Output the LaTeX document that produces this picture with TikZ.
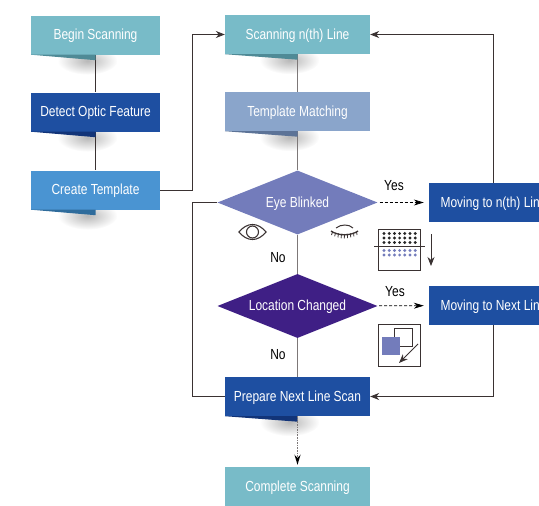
\documentclass[tikz,border=0pt]{standalone}
\usepackage{fontspec}
\setmainfont[FakeStretch=0.82]{Liberation Sans}
\usetikzlibrary{shapes.geometric, arrows.meta, backgrounds}

\definecolor{tealbox}{HTML}{78BBC8}
\definecolor{navybox}{HTML}{1E4FA1}
\definecolor{skybox}{HTML}{4A94D2}
\definecolor{paleblue}{HTML}{8AA5CB}
\definecolor{iris}{HTML}{737CBB}
\definecolor{deeppurple}{HTML}{3F1F85}
\definecolor{foldteal}{HTML}{4F8A96}
\definecolor{foldnavy}{HTML}{123478}
\definecolor{foldsky}{HTML}{2F6C9C}
\definecolor{foldpale}{HTML}{5C7397}
\definecolor{linedark}{HTML}{3A3232}
\definecolor{linegrey}{HTML}{7D7878}

\begin{document}
\begin{tikzpicture}[x=1pt, y=-1pt, node distance=77pt]
    \tikzstyle{stepbox} = [rectangle, minimum height=39pt, inner sep=0pt, text=white, text height=9pt, text depth=0pt, font=\fontsize{14.6}{16}\selectfont]
    \tikzstyle{leftbox} = [stepbox, minimum width=129pt]
    \tikzstyle{midbox} = [stepbox, minimum width=145pt]
    \tikzstyle{decision} = [diamond, aspect=2.5, minimum width=160pt, minimum height=64pt, inner sep=0pt, text=white, text height=9pt, text depth=0pt, font=\fontsize{14.6}{16}\selectfont]
    \tikzstyle{answer} = [text=black, inner sep=0pt, font=\fontsize{14.6}{16}\selectfont]
    \tikzstyle{link} = [draw=linedark, line width=0.8pt]
    \tikzstyle{greylink} = [draw=linegrey, line width=1.2pt]
    \tikzstyle{arrow} = [link, -{Stealth[length=9pt, width=7pt]}]
    \tikzstyle{dotarrow} = [draw=black, line width=0.7pt, densely dashed, -{Stealth[length=10pt, width=6pt]}]
    \tikzstyle{icon} = [draw=linedark, line width=0.8pt]

    \useasboundingbox (0,0) rectangle (539,506);

    % left column
    \node (begin) [leftbox, fill=tealbox] at (95.5,35) {Begin Scanning};
    \node (detect) [leftbox, fill=navybox, below of=begin] {Detect Optic Feature};
    \node (create) [leftbox, fill=skybox, below of=detect, yshift=-1pt] {Create Template};

    % middle column
    \node (scanline) [midbox, fill=tealbox] at (297.5,34.5) {Scanning n(th) Line};
    \node (template) [midbox, fill=paleblue, below of=scanline] {Template Matching};
    \node (blink) [decision, fill=iris, below of=template, yshift=-14pt] {Eye Blinked};
    \node (changed) [decision, fill=deeppurple, below of=blink, yshift=-26.5pt] {Location Changed};
    \node (prepare) [midbox, fill=navybox, below of=changed, yshift=-13.5pt] {Prepare Next Line Scan};
    \node (complete) [midbox, fill=tealbox, below of=prepare, yshift=-13pt] {Complete Scanning};

    % right column, cut by the page edge
    \node (moveline) [leftbox, fill=navybox] at (493.5,202.5) {Moving to n(th) Line};
    \node (movenext) [leftbox, fill=navybox] at (493.5,305.5) {Moving to Next Line};

    % folds under the boxes
    \foreach \name/\dark in {begin/foldteal, detect/foldnavy, create/foldsky, scanline/foldteal, template/foldpale, prepare/foldnavy} {
        \begin{scope}[on background layer]
            \shade [inner color=black!28, outer color=white] ([xshift=-8pt,yshift=-6pt]\name.south) ellipse (30 and 14);
        \end{scope}
        \fill [\dark] (\name.south west) -- ([yshift=-5.5pt]\name.south) -- (\name.south) -- cycle;
    }

    \coordinate (toprail) at (192,34.5);
    \coordinate (eyerail) at (192,202.5);
    \coordinate (lowrail) at (192,396.5);

    \begin{scope}[on background layer]
        \draw [link] (begin) -- (detect);
        \draw [link] (detect) -- (create);
        \draw [greylink] (scanline) -- (template);
        \draw [greylink] (template) -- (blink);
        \draw [greylink] (blink) -- (changed);
        \draw [greylink] (changed) -- (prepare);
    \end{scope}

    \draw [arrow] (create) -| (toprail) -- (scanline);
    \draw [link] (blink) -- (eyerail) -- (lowrail) -- (prepare);
    \draw [arrow] (moveline) |- (scanline);
    \draw [arrow] (movenext) |- (prepare);
    \draw [dotarrow, shorten <=2pt, shorten >=5pt] (blink) -- (moveline);
    \draw [dotarrow, shorten <=2pt, shorten >=5pt] (changed) -- (movenext);
    \draw [draw=linegrey, line width=1.6pt, densely dotted, -{Stealth[length=10pt, width=6pt, black]}, shorten >=2pt] (prepare) -- (complete);

    \node (yesa) [answer] at (394,186) {Yes};
    \node (yesb) [answer] at (395,292) {Yes};
    \node (noa) [answer] at (278,258) {No};
    \node (nob) [answer] at (278,355) {No};

    % open eye
    \draw [icon, line width=1.1pt] (239,232) .. controls (247,222) and (258,222) .. (266,232) .. controls (258,242) and (247,242) .. (239,232) -- cycle;
    \draw [icon, line width=1.1pt] (252.5,232) circle (6);

    % closed eye
    \draw [icon, line width=1pt] (336,228) .. controls (341,224) and (349,224) .. (353,228);
    \draw [icon, line width=1.3pt] (331,231) .. controls (338,236) and (351,236) .. (358,231);
    \foreach \i in {0,...,8} {
        \draw [icon, line width=0.8pt] ({332.5+\i*3},{232+2*sin(\i*22.5)}) -- ({331.5+\i*3.2},{235+3.5*sin(\i*22.5)});
    }

    % scan line icon
    \draw [icon, fill=white] (378,229) rectangle (420,270);
    \foreach \i in {0,...,6} {
        \foreach \j in {233.5,238,242.5} {
            \fill [black!85] ({384+\i*5.2},\j) circle (1.6);
        }
        \foreach \j in {250.5,255} {
            \fill [iris] ({384+\i*5.2},\j) circle (1.6);
        }
    }
    \draw [icon] (374,246.5) -- (425,246.5);
    \draw [arrow] (431,234) -- (431,266);

    % moved window icon
    \draw [icon, fill=white] (378.5,324.5) rectangle (420.5,366.5);
    \draw [icon, fill=white] (394.5,328.5) rectangle (412.5,346.5);
    \fill [iris] (382,337) rectangle (400,355);
    \draw [arrow] (418,344) -- (399,363);
\end{tikzpicture}
\end{document}
